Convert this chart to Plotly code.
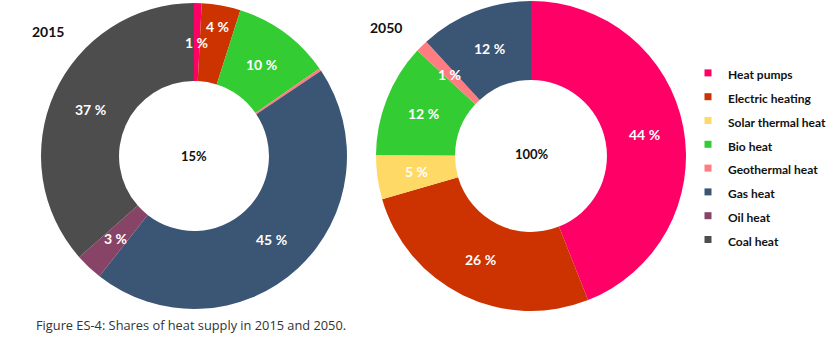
import math
import plotly.graph_objects as go

categories = ["Heat pumps", "Electric heating", "Solar thermal heat", "Bio heat",
              "Geothermal heat", "Gas heat", "Oil heat", "Coal heat"]
colors = ["#FF0066", "#CC3300", "#FFD966", "#33CC33", "#FF7C80", "#3B5575", "#884466", "#4D4D4D"]

values_2015 = [0.8, 4.1, 0.0, 10.4, 0.3, 45.0, 2.9, 36.5]
labels_2015 = ["1 %", "4 %", "", "10 %", "", "45 %", "3 %", "37 %"]

values_2050 = [44.0, 26.5, 4.6, 11.8, 1.3, 11.8, 0.0, 0.0]
labels_2050 = ["44 %", "26 %", "5 %", "12 %", "1 %", "12 %", "", ""]

center_2015 = "15%"
center_2050 = "100%"
caption = "Figure ES-4: Shares of heat supply in 2015 and 2050."

W, H = 838, 337
FONT = "Lato"
HOLE = 0.49
LABEL_SIZE = 14
# radial placement of each label within the ring (0 = hole edge, 1 = outer edge)
label_ring_2015 = [0.5, 0.73, 0.5, 0.5, 0.5, 0.5, 0.5, 0.5]
label_ring_2050 = [0.5] * 8


def dom(cx, cy, r):
    return dict(x=[(cx - r) / W, (cx + r) / W], y=[(H - cy - r) / H, (H - cy + r) / H])


fig = go.Figure()
anns = []
pies = [(values_2015, labels_2015, label_ring_2015, (194, 156, 153)),
        (values_2050, labels_2050, label_ring_2050, (531, 156, 155))]
for vals, txt, ring, (cx, cy, r) in pies:
    total = sum(vals)
    cum = 0.0
    for v, t, f in zip(vals, txt, ring):
        if t:
            ang = 2 * math.pi * (cum + v / 2) / total
            rm = r * (HOLE + (1 - HOLE) * f)
            px = cx + rm * math.sin(ang)
            py = cy - rm * math.cos(ang)
            anns.append(dict(text=t, x=px / W, y=1 - py / H, xref="paper", yref="paper",
                             showarrow=False, xanchor="center", yanchor="middle",
                             font=dict(family=FONT, size=LABEL_SIZE, color="white", weight="bold")))
        cum += v
    fig.add_trace(go.Pie(
        labels=categories, values=vals, textinfo="none",
        sort=False, direction="clockwise", rotation=0, hole=HOLE,
        marker=dict(colors=colors, line=dict(width=0)),
        domain=dom(cx, cy, r), showlegend=False, hoverinfo="label+value",
    ))

for name, c in zip(categories, colors):
    fig.add_trace(go.Scatter(
        x=[None], y=[None], mode="markers", name=f'<span style="font-size:12px">{name}</span>',
        marker=dict(symbol="square", size=7, color=c), showlegend=True,
    ))

annotations = [
    dict(text=center_2015, x=194 / W, y=1 - 156 / H),
    dict(text=center_2050, x=532 / W, y=1 - 154 / H),
    dict(text="2015", x=48 / W, y=1 - 32 / H, size=14),
    dict(text="2050", x=386 / W, y=1 - 28 / H, size=14),
]
for a in annotations:
    anns.append(dict(text=a["text"], x=a["x"], y=a["y"], xref="paper", yref="paper",
                     showarrow=False, xanchor="center", yanchor="middle",
                     font=dict(family=FONT, size=a.get("size", 13), color="#111", weight="bold")))
anns.append(dict(text=caption, x=34 / W, y=1 - 325 / H, xref="paper", yref="paper",
                 showarrow=False, xanchor="left", yanchor="middle",
                 font=dict(family="Open Sans", size=12.8, color="#333")))

fig.update_layout(
    width=W, height=H, margin=dict(l=0, r=0, t=0, b=0),
    paper_bgcolor="white", plot_bgcolor="white",
    xaxis=dict(visible=False), yaxis=dict(visible=False),
    annotations=anns,
    legend=dict(x=688 / W, y=1 - 56 / H, xanchor="left", yanchor="top",
                font=dict(family=FONT, size=16, color="#111", weight="bold"),
                bgcolor="rgba(0,0,0,0)", traceorder="normal"),
)

fig.write_html("out.html")
